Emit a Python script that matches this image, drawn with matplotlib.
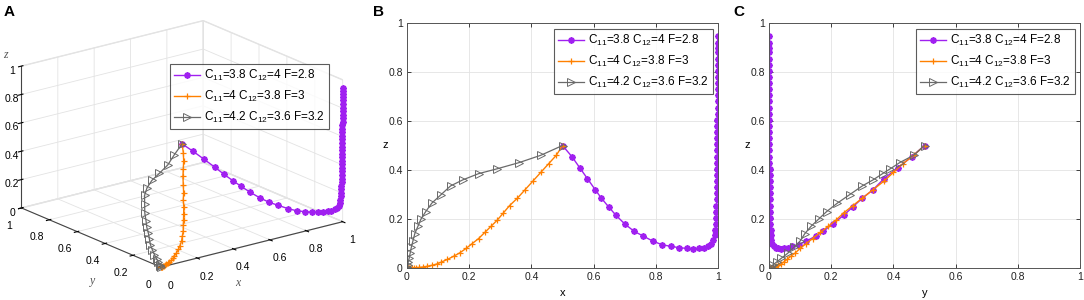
import matplotlib
matplotlib.use("Agg")
import matplotlib.pyplot as plt

plt.rcParams["font.family"] = ["Liberation Sans", "DejaVu Sans"]
plt.rcParams["mathtext.default"] = "regular"
plt.rcParams["grid.color"] = "#e3e3e3"
plt.rcParams["grid.linewidth"] = 0.6

# trajectories (x, y, z per step)
purple_x = [0.500, 0.530, 0.555, 0.580, 0.605, 0.625, 0.648, 0.672, 0.700, 0.730,
            0.760, 0.790, 0.820, 0.850, 0.875, 0.900, 0.920, 0.940, 0.955, 0.968,
            0.978, 0.985, 0.989, 0.991, 0.993, 0.994, 0.995, 0.995, 0.996, 0.996,
            0.996, 0.997, 0.997, 0.997, 0.997, 0.998, 0.998, 0.998, 0.998, 0.998,
            0.998, 0.998, 0.999, 0.999, 0.999, 0.999, 0.999, 0.999, 0.999, 0.999,
            0.999, 0.999, 0.999, 0.999, 0.999, 0.999]
purple_y = [0.500, 0.460, 0.415, 0.370, 0.335, 0.300, 0.270, 0.240, 0.205, 0.175,
            0.150, 0.120, 0.095, 0.075, 0.060, 0.048, 0.040, 0.030, 0.022, 0.016,
            0.011, 0.008, 0.006, 0.005, 0.004, 0.004, 0.003, 0.003, 0.003, 0.002,
            0.002, 0.002, 0.002, 0.002, 0.001, 0.001, 0.001, 0.001, 0.001, 0.001,
            0.001, 0.001, 0.001, 0.001, 0.001, 0.000, 0.000, 0.000, 0.000, 0.000,
            0.000, 0.000, 0.000, 0.000, 0.000, 0.000]
purple_z = [0.500, 0.455, 0.410, 0.365, 0.320, 0.285, 0.250, 0.215, 0.180, 0.150,
            0.130, 0.110, 0.095, 0.088, 0.083, 0.080, 0.079, 0.080, 0.083, 0.090,
            0.100, 0.115, 0.135, 0.155, 0.180, 0.205, 0.230, 0.255, 0.280, 0.305,
            0.330, 0.355, 0.380, 0.405, 0.430, 0.455, 0.480, 0.505, 0.530, 0.555,
            0.580, 0.605, 0.630, 0.655, 0.680, 0.705, 0.730, 0.755, 0.780, 0.805,
            0.830, 0.855, 0.880, 0.900, 0.920, 0.945]

orange_x = [0.500, 0.480, 0.455, 0.430, 0.405, 0.380, 0.355, 0.330, 0.310, 0.290,
            0.270, 0.250, 0.230, 0.210, 0.190, 0.170, 0.150, 0.130, 0.110, 0.095,
            0.080, 0.065, 0.052, 0.040, 0.030, 0.022, 0.015, 0.009, 0.005, 0.002, 0.000]
orange_y = [0.500, 0.465, 0.430, 0.400, 0.370, 0.335, 0.300, 0.270, 0.240, 0.215,
            0.190, 0.165, 0.140, 0.120, 0.100, 0.085, 0.070, 0.058, 0.047, 0.038,
            0.030, 0.024, 0.018, 0.013, 0.009, 0.006, 0.004, 0.002, 0.001, 0.0005, 0.000]
orange_z = [0.500, 0.460, 0.425, 0.390, 0.355, 0.320, 0.285, 0.255, 0.225, 0.195,
            0.170, 0.145, 0.120, 0.100, 0.080, 0.062, 0.048, 0.035, 0.024, 0.016,
            0.011, 0.007, 0.004, 0.0025, 0.0015, 0.001, 0.0005, 0.0003, 0.0001, 0.000, 0.000]

gray_x = [0.500, 0.430, 0.360, 0.290, 0.230, 0.180, 0.140, 0.110, 0.080, 0.060,
          0.045, 0.035, 0.025, 0.019, 0.014, 0.010, 0.007, 0.004, 0.002, 0.001, 0.000]
gray_y = [0.500, 0.465, 0.420, 0.390, 0.365, 0.335, 0.300, 0.260, 0.220, 0.185,
          0.160, 0.135, 0.115, 0.100, 0.080, 0.060, 0.040, 0.025, 0.012, 0.005, 0.000]
gray_z = [0.500, 0.460, 0.430, 0.405, 0.385, 0.360, 0.335, 0.300, 0.265, 0.230,
          0.200, 0.170, 0.140, 0.110, 0.085, 0.060, 0.040, 0.025, 0.012, 0.005, 0.000]

labels = [r"C$_{11}$=3.8 C$_{12}$=4 F=2.8",
          r"C$_{11}$=4 C$_{12}$=3.8 F=3",
          r"C$_{11}$=4.2 C$_{12}$=3.6 F=3.2"]
ticks = [0, 0.2, 0.4, 0.6, 0.8, 1]
tick_text = ["0", "0.2", "0.4", "0.6", "0.8", "1"]

series = [
    (purple_x, purple_y, purple_z,
     dict(color="#a020f0", marker=(8, 2, 0), ms=4.5, mew=1.3, lw=1.0)),
    (orange_x, orange_y, orange_z,
     dict(color="#ff8000", marker="+", ms=5, mew=0.9, lw=1.0)),
    (gray_x, gray_y, gray_z,
     dict(color="#6a6a6a", marker=">", ms=5.5, mfc="none", mew=0.7, lw=0.9)),
]

W, H = 1084, 300
fig = plt.figure(figsize=(W / 100, H / 100), dpi=100)
fig.set_facecolor("white")


def legend_at(ax, x0, y0):
    leg = ax.legend(loc="upper left", bbox_to_anchor=(x0 / W, 1 - y0 / H),
                    bbox_transform=fig.transFigure, fontsize=8.5, frameon=True,
                    fancybox=False, borderpad=0.35, labelspacing=0.5,
                    handlelength=2.2, handletextpad=0.3, borderaxespad=0)
    leg.get_frame().set_edgecolor("#333333")
    leg.get_frame().set_linewidth(0.8)
    leg.set_zorder(20)
    return leg


# ---- panel A: 3D view
ax3 = fig.add_axes([-0.021, -0.024, 0.37, 1.06], projection="3d")
for (xs, ys, zs, st), lab in zip(series, labels):
    ln, = ax3.plot(xs, ys, zs, label=lab, **st)
    ln.set_clip_on(False)
ax3.set_proj_type("ortho")
ax3.view_init(elev=19, azim=-127.5)
ax3.set_box_aspect((1, 1, 0.655), zoom=1.09)
ax3.set_xlim(0, 1)
ax3.set_ylim(0, 1)
ax3.set_zlim(0, 1)
ax3.set_xticks(ticks)
ax3.set_yticks(ticks)
ax3.set_zticks(ticks)
ax3.set_xticklabels(tick_text)
ax3.set_yticklabels(tick_text)
ax3.set_zticklabels(tick_text)
for axis in (ax3.xaxis, ax3.yaxis, ax3.zaxis):
    axis.set_pane_color((1, 1, 1, 1))
    axis.pane.set_edgecolor("#e3e3e3")
    axis._axinfo["grid"]["color"] = "#e3e3e3"
    axis._axinfo["grid"]["linewidth"] = 0.6
    axis.line.set_color("#444444")
    axis.line.set_linewidth(0.8)
ax3.tick_params(labelsize=7.5, pad=0)
ax3.zaxis.set_tick_params(pad=-4.5)
legend_at(ax3, 170, 64)

# italic axis names of the 3D panel
for name, px, py in (("x", 238, 283), ("y", 93, 281), ("z", 5, 55)):
    fig.text(px / W, 1 - py / H, name, fontsize=8.5, fontstyle="italic",
             family="Liberation Serif", color="#555555", ha="center", va="center")


# ---- panels B and C
def flat_axes(left, xs_key):
    ax = fig.add_axes([left / W, 1 - 268 / H, 311 / W, 245 / H])
    for (xs, ys, zs, st), lab in zip(series, labels):
        ax.plot(xs if xs_key == "x" else ys, zs, label=lab, **st)
    ax.set_xlim(0, 1)
    ax.set_ylim(0, 1)
    ax.set_xticks(ticks)
    ax.set_yticks(ticks)
    ax.set_xticklabels(tick_text)
    ax.set_yticklabels(tick_text)
    ax.grid(True, color="#e3e3e3", lw=0.6)
    ax.set_axisbelow(True)
    ax.tick_params(direction="in", length=3, width=0.6, labelsize=7.5,
                   top=True, right=True, colors="#222222", pad=3)
    for s in ax.spines.values():
        s.set_color("#555555")
        s.set_linewidth(0.7)
    ax.set_xlabel(xs_key, fontsize=8, labelpad=4)
    ax.set_ylabel("z", fontsize=8, rotation=0, labelpad=2, va="center")
    return ax


axB = flat_axes(407, "x")
legend_at(axB, 554, 29)
axC = flat_axes(769, "y")
legend_at(axC, 916, 29)

for lbl, xp in (("A", 4), ("B", 373), ("C", 733)):
    fig.text(xp / W, 1 - 12 / H, lbl, fontsize=11, fontweight="bold",
             va="center", ha="left")

fig.savefig("out.png", dpi=100)
